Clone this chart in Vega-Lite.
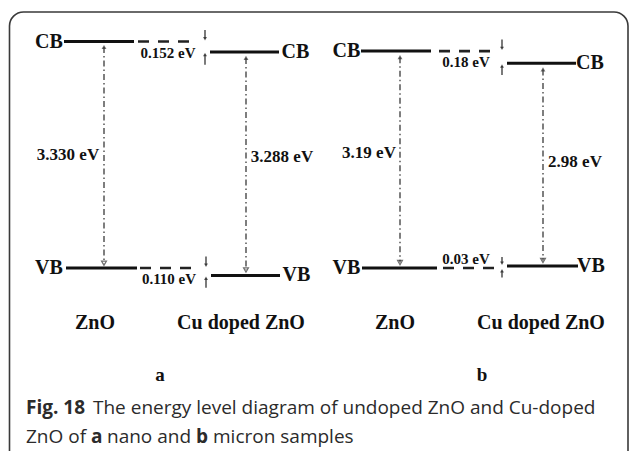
{
  "$schema": "https://vega.github.io/schema/vega-lite/v6.json",
  "width": 629,
  "height": 451,
  "padding": 0,
  "autosize": {"type": "fit", "contains": "padding"},
  "background": "white",
  "config": {"view": {"stroke": null}},
  "datasets": {
    "border": [{"x": 9.5, "x2": 628, "E": 3.7647, "E2": -3.6}],
    "levels": [
      {"panel": "a", "sample": "ZnO", "band": "CB", "E": 3.33, "x": 64, "x2": 134},
      {"panel": "a", "sample": "ZnO", "band": "VB", "E": 0, "x": 66, "x2": 137},
      {"panel": "a", "sample": "Cu doped ZnO", "band": "CB", "E": 3.178, "x": 210, "x2": 279},
      {"panel": "a", "sample": "Cu doped ZnO", "band": "VB", "E": -0.11, "x": 211, "x2": 280},
      {"panel": "b", "sample": "ZnO", "band": "CB", "E": 3.19, "x": 361, "x2": 431},
      {"panel": "b", "sample": "ZnO", "band": "VB", "E": 0, "x": 362, "x2": 437},
      {"panel": "b", "sample": "Cu doped ZnO", "band": "CB", "E": 3.01, "x": 507, "x2": 576},
      {"panel": "b", "sample": "Cu doped ZnO", "band": "VB", "E": 0.03, "x": 507, "x2": 578}
    ],
    "refs": [
      {"panel": "a", "E": 3.33, "x": 138, "x2": 195},
      {"panel": "a", "E": 0, "x": 140, "x2": 197},
      {"panel": "b", "E": 3.19, "x": 439, "x2": 496},
      {"panel": "b", "E": 0, "x": 443, "x2": 497}
    ],
    "gaps": [
      {"panel": "a", "x": 104, "E": 3.25, "E2": 0.07},
      {"panel": "a", "x": 246, "E": 3.09, "E2": -0.03},
      {"panel": "b", "x": 400, "E": 3.1, "E2": 0.08},
      {"panel": "b", "x": 543, "E": 2.92, "E2": 0.11}
    ],
    "shiftsDown": [
      {"x": 205, "E": 3.5, "E2": 3.37},
      {"x": 206, "E": 0.17, "E2": 0.04},
      {"x": 502, "E": 3.36, "E2": 3.23},
      {"x": 502, "E": 0.16, "E2": 0.07}
    ],
    "shiftsUp": [
      {"x": 205, "E": 2.99, "E2": 3.14},
      {"x": 206, "E": -0.29, "E2": -0.15},
      {"x": 502, "E": 2.84, "E2": 2.97},
      {"x": 502, "E": -0.14, "E2": -0.04}
    ],
    "bandLabels": [
      {"text": "CB", "x": 49, "E": 3.33},
      {"text": "VB", "x": 49, "E": 0},
      {"text": "CB", "x": 295.5, "E": 3.178},
      {"text": "VB", "x": 296.5, "E": -0.11},
      {"text": "CB", "x": 346.5, "E": 3.19},
      {"text": "VB", "x": 346.5, "E": 0},
      {"text": "CB", "x": 590, "E": 3.01},
      {"text": "VB", "x": 591, "E": 0.03}
    ],
    "gapLabels": [
      {"text": "3.330 eV", "x": 68, "E": 1.66},
      {"text": "3.288 eV", "x": 282, "E": 1.63},
      {"text": "3.19 eV", "x": 369, "E": 1.69},
      {"text": "2.98 eV", "x": 575, "E": 1.56}
    ],
    "shiftLabels": [
      {"text": "0.152 eV", "x": 168, "E": 3.162},
      {"text": "0.110 eV", "x": 169, "E": -0.162},
      {"text": "0.18 eV", "x": 466, "E": 3.029},
      {"text": "0.03 eV", "x": 466, "E": 0.132}
    ],
    "sampleLabels": [
      {"text": "ZnO", "x": 95, "E": -0.8088},
      {"text": "Cu doped ZnO", "x": 241, "E": -0.8088},
      {"text": "ZnO", "x": 395, "E": -0.8088},
      {"text": "Cu doped ZnO", "x": 541, "E": -0.8088}
    ],
    "panelLabels": [
      {"text": "a", "x": 160, "E": -1.5735},
      {"text": "b", "x": 482, "E": -1.5735}
    ],
    "captionBold": [
      {"text": "Fig. 18", "x": 26, "E": -2.0588},
      {"text": "a", "x": 91, "E": -2.4853},
      {"text": "b", "x": 196, "E": -2.4853}
    ],
    "captionRegular": [
      {"text": "The energy level diagram of undoped ZnO and Cu-doped", "x": 93, "E": -2.0588},
      {"text": "ZnO of", "x": 26, "E": -2.4853},
      {"text": "nano and", "x": 107, "E": -2.4853},
      {"text": "micron samples", "x": 213, "E": -2.4853}
    ]
  },
  "encoding": {
    "x": {"field": "x", "type": "quantitative", "scale": {"domain": [0, 629], "nice": false, "zero": false}, "axis": null},
    "y": {"field": "E", "type": "quantitative", "scale": {"domain": [-2.6912, 3.9412], "nice": false, "zero": false}, "axis": null}
  },
  "layer": [
    {
      "data": {"name": "border"},
      "mark": {"type": "rect", "filled": false, "stroke": "#3a3a3a", "strokeWidth": 1.6, "cornerRadius": 14, "clip": true},
      "encoding": {"x2": {"field": "x2"}, "y2": {"field": "E2"}}
    },
    {
      "data": {"name": "levels"},
      "mark": {"type": "rule", "color": "#111", "strokeWidth": 3},
      "encoding": {"x2": {"field": "x2"}}
    },
    {
      "data": {"name": "refs"},
      "mark": {"type": "rule", "color": "#222", "strokeWidth": 2.6, "strokeDash": [11, 9]},
      "encoding": {"x2": {"field": "x2"}}
    },
    {
      "data": {"name": "gaps"},
      "mark": {"type": "rule", "color": "#3a3a3a", "strokeWidth": 1.3, "strokeDash": [6, 3, 1.5, 3]},
      "encoding": {"y2": {"field": "E2"}}
    },
    {
      "data": {"name": "gaps"},
      "mark": {"type": "point", "shape": "triangle-up", "filled": true, "color": "#333", "size": 24},
      "encoding": {}
    },
    {
      "data": {"name": "gaps"},
      "mark": {"type": "point", "shape": "triangle-down", "filled": false, "color": "#333", "strokeWidth": 1.2, "size": 24},
      "encoding": {"y": {"field": "E2", "type": "quantitative"}}
    },
    {
      "data": {"name": "shiftsDown"},
      "mark": {"type": "rule", "color": "#222", "strokeWidth": 1.2},
      "encoding": {"y2": {"field": "E2"}}
    },
    {
      "data": {"name": "shiftsDown"},
      "mark": {"type": "point", "shape": "triangle-down", "filled": true, "color": "#222", "size": 16},
      "encoding": {"y": {"field": "E2", "type": "quantitative"}}
    },
    {
      "data": {"name": "shiftsUp"},
      "mark": {"type": "rule", "color": "#222", "strokeWidth": 1.2},
      "encoding": {"y2": {"field": "E2"}}
    },
    {
      "data": {"name": "shiftsUp"},
      "mark": {"type": "point", "shape": "triangle-up", "filled": true, "color": "#222", "size": 16},
      "encoding": {"y": {"field": "E2", "type": "quantitative"}}
    },
    {
      "data": {"name": "bandLabels"},
      "mark": {"type": "text", "font": "Liberation Serif", "fontWeight": "bold", "fontSize": 20, "color": "#111", "align": "center", "baseline": "middle"},
      "encoding": {"text": {"field": "text"}}
    },
    {
      "data": {"name": "gapLabels"},
      "mark": {"type": "text", "font": "Liberation Serif", "fontWeight": "bold", "fontSize": 17, "color": "#111", "align": "center", "baseline": "middle"},
      "encoding": {"text": {"field": "text"}}
    },
    {
      "data": {"name": "shiftLabels"},
      "mark": {"type": "text", "font": "Liberation Serif", "fontWeight": "bold", "fontSize": 15, "color": "#111", "align": "center", "baseline": "middle"},
      "encoding": {"text": {"field": "text"}}
    },
    {
      "data": {"name": "sampleLabels"},
      "mark": {"type": "text", "font": "Liberation Serif", "fontWeight": "bold", "fontSize": 20, "color": "#111", "align": "center", "baseline": "middle"},
      "encoding": {"text": {"field": "text"}}
    },
    {
      "data": {"name": "panelLabels"},
      "mark": {"type": "text", "font": "Liberation Serif", "fontWeight": "bold", "fontSize": 19, "color": "#111", "align": "center", "baseline": "middle"},
      "encoding": {"text": {"field": "text"}}
    },
    {
      "data": {"name": "captionBold"},
      "mark": {"type": "text", "font": "Open Sans", "fontWeight": "bold", "fontSize": 19, "color": "#2b2b2b", "align": "left", "baseline": "middle"},
      "encoding": {"text": {"field": "text"}}
    },
    {
      "data": {"name": "captionRegular"},
      "mark": {"type": "text", "font": "Open Sans", "fontSize": 19, "color": "#2b2b2b", "align": "left", "baseline": "middle"},
      "encoding": {"text": {"field": "text"}}
    }
  ]
}
